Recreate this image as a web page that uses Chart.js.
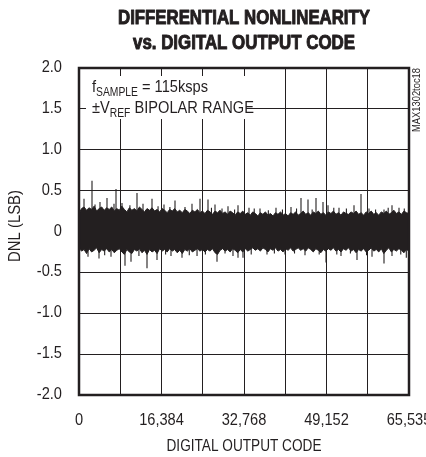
<!DOCTYPE html>
<html>
<head>
<meta charset="utf-8">
<title>DNL vs. Digital Output Code</title>
<script src="https://cdn.jsdelivr.net/npm/chart.js@4"></script>
<style>
  html, body { margin: 0; padding: 0; background: #fff; }
  #wrap { width: 426px; height: 457px; position: relative; }
</style>
</head>
<body>
<div id="wrap"><canvas id="chartDnl"></canvas></div>
<script>
// Band envelope of the DNL trace, one value per sample slot across the code range
const upperEnv = [
    0.22, 0.28, 0.30, 0.26, 0.29, 0.27, 0.31, 0.25, 0.28, 0.30,
    0.26, 0.29, 0.27, 0.30, 0.25, 0.28, 0.26, 0.31, 0.27, 0.24,
    0.29, 0.26, 0.28, 0.25, 0.30, 0.27, 0.24, 0.28, 0.26, 0.29,
    0.25, 0.27, 0.24, 0.28, 0.26, 0.23, 0.27, 0.25, 0.28, 0.24,
    0.26, 0.23, 0.27, 0.25, 0.22, 0.26, 0.24, 0.27, 0.23, 0.25,
    0.22, 0.26, 0.24, 0.21, 0.25, 0.23, 0.26, 0.22, 0.24, 0.21,
    0.25, 0.23, 0.20, 0.24, 0.22, 0.25, 0.21, 0.23, 0.20, 0.24,
    0.22, 0.19, 0.23, 0.21, 0.24, 0.20, 0.22, 0.19, 0.23, 0.21,
    0.24, 0.20, 0.22, 0.19, 0.23, 0.21, 0.24, 0.20, 0.22, 0.25,
    0.21, 0.23, 0.20, 0.24, 0.22, 0.25, 0.21, 0.23, 0.20, 0.24,
    0.22, 0.25, 0.21, 0.23, 0.20, 0.24, 0.22, 0.21, 0.24, 0.22,
    0.25, 0.21, 0.23, 0.20, 0.24, 0.22, 0.25, 0.21, 0.23, 0.20,
    0.24, 0.22, 0.25, 0.21, 0.23, 0.26, 0.22, 0.24, 0.21, 0.25,
    0.23, 0.22
];
const lowerEnv = [
    -0.20, -0.24, -0.22, -0.27, -0.21, -0.25, -0.23, -0.20, -0.26, -0.22,
    -0.24, -0.21, -0.25, -0.22, -0.26, -0.23, -0.21, -0.25, -0.28, -0.22,
    -0.25, -0.27, -0.22, -0.24, -0.21, -0.26, -0.23, -0.28, -0.22, -0.25,
    -0.23, -0.27, -0.21, -0.24, -0.22, -0.25, -0.21, -0.24, -0.22, -0.26,
    -0.23, -0.27, -0.22, -0.24, -0.21, -0.25, -0.23, -0.21, -0.24, -0.22,
    -0.25, -0.22, -0.24, -0.21, -0.26, -0.28, -0.23, -0.21, -0.24, -0.22,
    -0.25, -0.21, -0.23, -0.26, -0.22, -0.25, -0.21, -0.24, -0.22, -0.20,
    -0.23, -0.21, -0.24, -0.20, -0.22, -0.25, -0.21, -0.23, -0.20, -0.24,
    -0.22, -0.25, -0.21, -0.23, -0.20, -0.24, -0.22, -0.20, -0.23, -0.21,
    -0.24, -0.20, -0.22, -0.25, -0.21, -0.23, -0.26, -0.22, -0.24, -0.21,
    -0.23, -0.20, -0.24, -0.22, -0.25, -0.21, -0.23, -0.20, -0.24, -0.22,
    -0.26, -0.22, -0.24, -0.21, -0.25, -0.23, -0.20, -0.24, -0.22, -0.25,
    -0.21, -0.27, -0.23, -0.20, -0.25, -0.22, -0.24, -0.21, -0.23, -0.26,
    -0.22, -0.24
];

// Isolated codes that stick out of the band
const spikeCodes = [
    993, 2582, 4170, 5560, 7348, 8540, 11518, 12710, 14497, 16880,
    19065, 21051, 22440, 24030, 25618, 27009, 29590, 31576, 33760, 35945,
    39122, 42101, 44087, 45477, 47066, 48456, 49449, 51634, 54613, 56003,
    57592, 60570, 62159, 63549,
    3180, 6950, 10110, 15700, 18050, 26300, 28400, 30900, 34800, 37600,
    40400, 43200, 46300, 50600, 53100, 58900, 61400, 64600,
    1787, 3972, 6355, 9135, 10327, 13504, 15490, 18270, 20455, 23440,
    27406, 30580, 31576, 32569, 37335, 40910, 44880, 49052, 52030, 55208,
    58190, 60570, 62159, 65000,
    5100, 11900, 17200, 21900, 25100, 29000, 34200, 38800, 42800, 47700,
    51200, 53900, 57100, 63900
];
const spikeValues = [
    0.40, 0.62, 0.36, 0.41, 0.52, 0.35, 0.47, 0.34, 0.40, 0.33,
    0.38, 0.30, 0.34, 0.40, 0.39, 0.33, 0.31, 0.32, 0.29, 0.28,
    0.29, 0.30, 0.41, 0.39, 0.41, 0.36, 0.32, 0.29, 0.32, 0.46,
    0.28, 0.27, 0.32, 0.29,
    0.33, 0.34, 0.32, 0.31, 0.30, 0.29, 0.28, 0.27, 0.28, 0.26,
    0.27, 0.28, 0.27, 0.29, 0.28, 0.27, 0.29, 0.28,
    -0.31, -0.33, -0.31, -0.42, -0.37, -0.45, -0.35, -0.30, -0.32, -0.30,
    -0.37, -0.30, -0.32, -0.32, -0.28, -0.28, -0.29, -0.38, -0.30, -0.35,
    -0.31, -0.39, -0.30, -0.32,
    -0.29, -0.30, -0.28, -0.29, -0.28, -0.27, -0.28, -0.27, -0.27, -0.28,
    -0.28, -0.27, -0.29, -0.28
];

const xGridCodes = [0, 8192, 16384, 24576, 32768, 40960, 49152, 57344, 65535];
const xLabelCodes = [0, 16384, 32768, 49152, 65535];
const yTickValues = [-2, -1.5, -1, -0.5, 0, 0.5, 1, 1.5, 2];
const yTickLabels = ['-2.0', '-1.5', '-1.0', '-0.5', '0', '0.5', '1.0', '1.5', '2.0'];

const INK = '#231f20';
const FONT = '"Liberation Sans", Arial, sans-serif';
const NARROW = 0.86;

const codeStep = 65535 / (upperEnv.length - 1);
const upperPts = upperEnv.map((v, i) => ({ x: i * codeStep, y: v }));
const lowerPts = lowerEnv.map((v, i) => ({ x: i * codeStep, y: v }));
const spikePts = [];
spikeCodes.forEach((c, i) => {
    spikePts.push({ x: c, y: 0 }, { x: c, y: spikeValues[i] }, { x: c, y: null });
});

// Draws condensed text: squeezed by sx, or to an exact width
function drawText(ctx, text, x, y, size, o = {}) {
    ctx.save();
    ctx.font = (o.bold ? 'bold ' : '') + size + 'px ' + FONT;
    const w = ctx.measureText(text).width;
    const sx = o.width ? o.width / w : (o.sx || NARROW);
    ctx.translate(x, y);
    if (o.rotate) ctx.rotate(-Math.PI / 2);
    ctx.scale(sx, 1);
    ctx.textAlign = o.align || 'left';
    ctx.textBaseline = o.baseline || 'alphabetic';
    ctx.fillStyle = INK;
    ctx.fillText(text, 0, 0);
    if (o.heavy) {
        // extra weight for the black condensed title face
        ctx.strokeStyle = INK;
        ctx.lineWidth = o.heavy;
        ctx.lineJoin = 'round';
        ctx.strokeText(text, 0, 0);
    }
    ctx.restore();
    return w * sx;
}

const decorPlugin = {
    id: 'decor',
    beforeDatasetsDraw(chart) {
        const { ctx } = chart;
        // note box hides the grid behind it
        ctx.save();
        ctx.fillStyle = '#fff';
        ctx.fillRect(86, 76, 160, 43);
        ctx.restore();

        let x = 92;
        x += drawText(ctx, 'f', x, 92, 17);
        x += drawText(ctx, 'SAMPLE', x, 96, 12);
        drawText(ctx, ' = 115ksps', x, 92, 17);
        x = 92;
        x += drawText(ctx, '\u00B1V', x, 113, 17);
        x += drawText(ctx, 'REF', x, 117, 12);
        drawText(ctx, ' BIPOLAR RANGE', x, 113, 17);
    },
    afterDraw(chart) {
        const { ctx, chartArea: a, scales } = chart;
        ctx.save();
        ctx.strokeStyle = INK;
        ctx.lineWidth = 2.5;
        ctx.strokeRect(a.left, a.top, a.right - a.left, a.bottom - a.top);
        ctx.restore();

        // tick labels, placed by the library scales
        yTickValues.forEach((v, i) => {
            drawText(ctx, yTickLabels[i], 62, scales.y.getPixelForValue(v) + 4, 17, { align: 'right' });
        });
        xLabelCodes.forEach((c) => {
            drawText(ctx, c.toLocaleString('en-US'), scales.x.getPixelForValue(c), 425, 17, { align: 'center' });
        });

        const cx = (a.left + a.right) / 2;
        drawText(ctx, 'DIFFERENTIAL NONLINEARITY', cx, 24, 20, { bold: true, align: 'center', width: 252, heavy: 1 });
        drawText(ctx, 'vs. DIGITAL OUTPUT CODE', cx, 49, 20, { bold: true, align: 'center', width: 222, heavy: 1 });
        drawText(ctx, 'DIGITAL OUTPUT CODE', cx, 451, 17, { align: 'center', width: 155 });
        drawText(ctx, 'DNL (LSB)', 15, 226, 17, { align: 'center', baseline: 'middle', rotate: true, width: 72 });
        drawText(ctx, 'MAX1302toc18', 417, 100, 11, { align: 'center', baseline: 'middle', rotate: true, width: 64 });
    }
};

new Chart(document.getElementById('chartDnl'), {
    type: 'line',
    data: {
        datasets: [
            { data: upperPts, borderColor: INK, backgroundColor: INK, borderWidth: 1, pointRadius: 0, fill: '+1' },
            { data: lowerPts, borderColor: INK, backgroundColor: INK, borderWidth: 1, pointRadius: 0, fill: false },
            { data: spikePts, borderColor: INK, borderWidth: 1.1, pointRadius: 0, fill: false, spanGaps: false }
        ]
    },
    options: {
        responsive: true,
        maintainAspectRatio: false,
        animation: false,
        events: [],
        layout: { autoPadding: false, padding: { left: 0, right: 17, top: 68, bottom: 0 } },
        plugins: { legend: { display: false }, tooltip: { enabled: false } },
        scales: {
            x: {
                type: 'linear',
                min: 0,
                max: 65535,
                afterBuildTicks: (s) => { s.ticks = xGridCodes.map(v => ({ value: v })); },
                afterFit: (s) => { s.height = 62; s.paddingLeft = 0; s.paddingRight = 0; },
                grid: { color: INK, lineWidth: 1, drawTicks: false },
                border: { display: false },
                ticks: { display: false }
            },
            y: {
                min: -2,
                max: 2,
                afterBuildTicks: (s) => { s.ticks = yTickValues.map(v => ({ value: v })); },
                afterFit: (s) => { s.width = 79; s.paddingTop = 0; s.paddingBottom = 0; },
                grid: { color: INK, lineWidth: 1, drawTicks: false },
                border: { display: false },
                ticks: { display: false }
            }
        }
    },
    plugins: [decorPlugin]
});
</script>
</body>
</html>
